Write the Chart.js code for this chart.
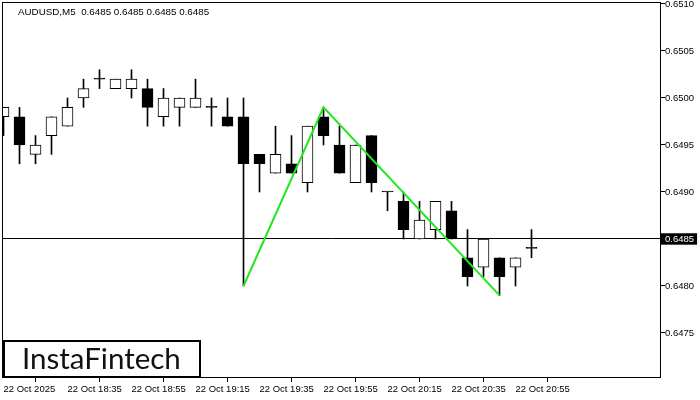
<!DOCTYPE html>
<html>
<head>
<meta charset="utf-8">
<script src="https://cdn.jsdelivr.net/npm/chart.js@4.4.1/dist/chart.umd.min.js"></script>
<style>
  html, body { margin: 0; padding: 0; background: #fff; }
  #chartCanvas { display: block; }
</style>
</head>
<body>
<canvas id="chartCanvas" width="700" height="400"></canvas>
<script>
// header and current price
const symbolTitle = 'AUDUSD,M5';
const lastQuote = [0.6485, 0.6485, 0.6485, 0.6485];
const currentPrice = 0.6485;

// M5 candles, index 0 = 18:15
const opens  = [0.6498, 0.6498, 0.6494, 0.6496, 0.6497, 0.6500, 0.6502, 0.6501, 0.6501, 0.6501,
                0.6498, 0.6499, 0.6499, 0.6499, 0.6498, 0.6498, 0.6494, 0.6492, 0.6493, 0.6491,
                0.6498, 0.6495, 0.6491, 0.6496, 0.6490, 0.6489, 0.6485, 0.6486, 0.6488, 0.6483,
                0.6482, 0.6483, 0.6482, 0.6484];
const highs  = [0.6499, 0.6499, 0.6496, 0.6498, 0.6500, 0.6502, 0.6503, 0.6502, 0.6503, 0.6502,
                0.6501, 0.6500, 0.6502, 0.6500, 0.6500, 0.6500, 0.6494, 0.6497, 0.6496, 0.6497,
                0.6499, 0.6497, 0.6495, 0.6496, 0.6490, 0.6490, 0.6489, 0.6489, 0.6489, 0.6486,
                0.6485, 0.6483, 0.6483, 0.6486];
const lows   = [0.6496, 0.6493, 0.6493, 0.6494, 0.6497, 0.6499, 0.6501, 0.6501, 0.6500, 0.6497,
                0.6497, 0.6497, 0.6499, 0.6497, 0.6497, 0.6480, 0.6490, 0.6492, 0.6492, 0.6490,
                0.6495, 0.6492, 0.6491, 0.6490, 0.6488, 0.6485, 0.6485, 0.6485, 0.6485, 0.6480,
                0.6481, 0.6479, 0.6480, 0.6483];
const closes = [0.6499, 0.6495, 0.6495, 0.6498, 0.6499, 0.6501, 0.6502, 0.6502, 0.6502, 0.6499,
                0.6500, 0.6500, 0.6500, 0.6499, 0.6497, 0.6493, 0.6493, 0.6494, 0.6492, 0.6497,
                0.6496, 0.6492, 0.6495, 0.6491, 0.6490, 0.6486, 0.6487, 0.6489, 0.6485, 0.6481,
                0.6485, 0.6481, 0.6483, 0.6484];

// green pattern line
const patternIdx = [15, 20, 31];
const patternPrices = [0.6480, 0.6499, 0.6479];

// axis labels
const xTickIdx = [0, 4, 8, 12, 16, 20, 24, 28, 32];
const xTickLabels = ['22 Oct 2025', '22 Oct 18:35', '22 Oct 18:55', '22 Oct 19:15', '22 Oct 19:35',
                     '22 Oct 19:55', '22 Oct 20:15', '22 Oct 20:35', '22 Oct 20:55'];
const yTickValues = [0.6475, 0.6480, 0.6485, 0.6490, 0.6495, 0.6500, 0.6505, 0.6510];

const axisFont = { family: 'Liberation Sans', size: 9.5 };

const mtDecor = {
  id: 'mtDecor',
  beforeDatasetsDraw(chart) {
    const { ctx, chartArea: a, scales } = chart;
    const y = Math.floor(scales.y.getPixelForValue(currentPrice)) + 0.5;
    ctx.save();
    ctx.strokeStyle = '#000';
    ctx.lineWidth = 1;
    ctx.beginPath();
    ctx.moveTo(a.left, y);
    ctx.lineTo(a.right, y);
    ctx.stroke();
    ctx.restore();
  },
  afterDraw(chart) {
    const { ctx, chartArea: a } = chart;
    ctx.save();
    // frame
    ctx.strokeStyle = '#000';
    ctx.lineWidth = 1;
    ctx.strokeRect(a.left + 0.5, a.top + 0.5, a.right - a.left - 1, a.bottom - a.top - 1);
    // header
    ctx.fillStyle = '#000';
    ctx.font = '9.8px "Liberation Sans"';
    ctx.textBaseline = 'middle';
    ctx.fillText(symbolTitle + '  ' + lastQuote.map(v => v.toFixed(4)).join(' '), 18, 12.5);
    // logo
    ctx.fillStyle = '#fff';
    ctx.fillRect(4, 341, 196, 36);
    ctx.lineWidth = 2;
    ctx.strokeRect(4, 341, 196, 36);
    ctx.fillStyle = '#111';
    ctx.font = '29.5px Lato';
    ctx.textBaseline = 'alphabetic';
    ctx.fillText('InstaFintech', 22, 369);
    ctx.restore();
  }
};

const ctx = document.getElementById('chartCanvas').getContext('2d');

window.chart = new Chart(ctx, {
  type: 'bar',
  data: {
    datasets: [
      {
        type: 'line',
        label: 'Pattern',
        data: patternIdx.map((x, i) => ({ x: x, y: patternPrices[i] })),
        borderColor: 'rgb(34, 230, 34)',
        borderWidth: 2,
        pointRadius: 0,
        tension: 0,
        fill: false,
        order: 0
      },
      {
        label: 'Body',
        data: opens.map((o, i) => ({ x: i, y: [o, closes[i]] })),
        // bullish white, bearish and doji black
        backgroundColor: c => closes[c.dataIndex] > opens[c.dataIndex] ? '#fff' : '#000',
        borderColor: '#000',
        borderWidth: 1,
        borderSkipped: false,
        barThickness: 11,
        minBarLength: 1,
        grouped: false,
        order: 1
      },
      {
        label: 'Wick',
        data: lows.map((l, i) => ({ x: i, y: [l, highs[i]] })),
        backgroundColor: '#000',
        borderWidth: 0,
        barThickness: 1,
        grouped: false,
        order: 2
      }
    ]
  },
  options: {
    responsive: false,
    animation: false,
    devicePixelRatio: 1,
    layout: { padding: { top: 2, left: 2, right: 0, bottom: 0 } },
    plugins: {
      legend: { display: false },
      tooltip: { enabled: false }
    },
    scales: {
      x: {
        type: 'linear',
        position: 'bottom',
        min: -0.09375,
        max: 41.09375,
        offset: false,
        afterBuildTicks: s => { s.ticks = xTickIdx.map(v => ({ value: v })); },
        afterFit: s => { s.height = 22; s.paddingLeft = 0; s.paddingRight = 0; },
        grid: { display: true, drawOnChartArea: false, drawTicks: true, tickLength: 4, color: '#000', lineWidth: 1 },
        border: { display: false },
        ticks: {
          autoSkip: false,
          maxRotation: 0,
          align: 'start',
          padding: 2,
          color: '#000',
          font: axisFont,
          callback: v => xTickLabels[xTickIdx.indexOf(v)]
        }
      },
      y: {
        type: 'linear',
        position: 'right',
        min: 0.647021,
        max: 0.651021,
        afterBuildTicks: s => { s.ticks = yTickValues.map(v => ({ value: v })); },
        afterFit: s => { s.width = 39; s.paddingTop = 0; s.paddingBottom = 0; },
        grid: { display: true, drawOnChartArea: false, drawTicks: true, tickLength: 4, color: '#000', lineWidth: 1 },
        border: { display: false },
        ticks: {
          padding: 0,
          font: axisFont,
          color: c => c.tick && c.tick.value === currentPrice ? '#fff' : '#000',
          showLabelBackdrop: c => !!(c.tick && c.tick.value === currentPrice),
          backdropColor: '#000',
          backdropPadding: { top: 0, bottom: 0, left: 4, right: 3 },
          callback: v => Number(v).toFixed(4)
        }
      }
    }
  },
  plugins: [mtDecor]
});
</script>
</body>
</html>
